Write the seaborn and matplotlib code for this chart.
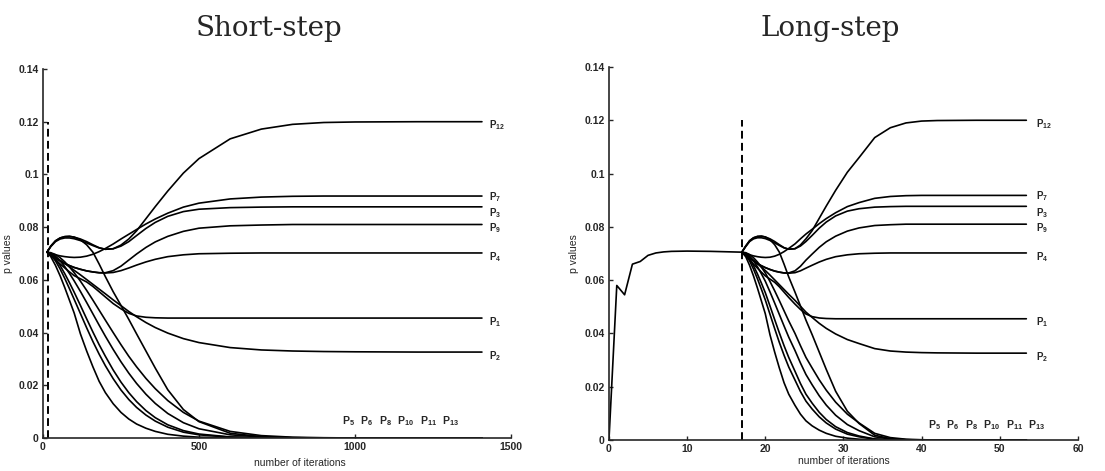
import numpy as np
import pandas as pd
import seaborn as sns
import matplotlib.pyplot as plt

# 迭代次数（两种步长各自的横坐标）
iters_short = [13, 25, 40, 55, 70, 85, 100, 120, 140, 160, 180, 200, 225, 250, 275, 300,
               330, 360, 400, 450, 500, 600, 700, 800, 900, 1000, 1200, 1407]
iters_long = [17, 17.5, 18, 18.5, 19, 19.5, 20, 20.6, 21.2, 21.8, 22.4, 23, 23.8, 24.5, 25.2, 26,
              26.9, 27.8, 29, 30.5, 32, 34, 36, 38, 40, 42, 47, 53.4]

# long-step 的前段曲线
iters_pre = [0, 1, 2, 3, 4, 5, 6, 7, 8, 10, 13, 17]
p_pre = [0, 0.058, 0.0545, 0.066, 0.067, 0.0693, 0.0702, 0.0706, 0.0708, 0.0709, 0.0708, 0.0705]

# 各 p 值曲线
p12 = [0.0705, 0.0728, 0.0748, 0.0759, 0.0764, 0.0765, 0.0762, 0.0755, 0.0745, 0.0733, 0.0722, 0.0716,
       0.0718, 0.0732, 0.0755, 0.0786, 0.0832, 0.0878, 0.0937, 0.1005, 0.106, 0.1135, 0.1172, 0.119,
       0.1197, 0.1199, 0.12, 0.12]
p7 = [0.0705, 0.07, 0.0695, 0.0691, 0.0688, 0.0686, 0.0685, 0.0686, 0.069, 0.0697, 0.0707, 0.0719,
      0.0736, 0.0755, 0.0773, 0.0791, 0.0812, 0.0831, 0.0853, 0.0876, 0.0891, 0.0907, 0.0914, 0.0917,
      0.0918, 0.0918, 0.0918, 0.0918]
p3 = [0.0705, 0.0726, 0.0745, 0.0755, 0.0759, 0.0759, 0.0756, 0.0749, 0.074, 0.073, 0.0721, 0.0716,
      0.0718, 0.0728, 0.0745, 0.0768, 0.0795, 0.0818, 0.0841, 0.0859, 0.0868, 0.0874, 0.0876, 0.0877,
      0.0877, 0.0877, 0.0877, 0.0877]
p9 = [0.0705, 0.0695, 0.0683, 0.0672, 0.0662, 0.0654, 0.0647, 0.064, 0.0634, 0.063, 0.0627, 0.0627,
      0.0635, 0.0652, 0.0675, 0.0698, 0.0723, 0.0744, 0.0765, 0.0784, 0.0796, 0.0805, 0.0808, 0.081,
      0.081, 0.081, 0.081, 0.081]
p4 = [0.0705, 0.0695, 0.0683, 0.0672, 0.0662, 0.0654, 0.0647, 0.064, 0.0634, 0.063, 0.0627, 0.0626,
      0.0628, 0.0635, 0.0645, 0.0656, 0.0668, 0.0678, 0.0688, 0.0695, 0.0699, 0.0701, 0.0702, 0.0702,
      0.0702, 0.0702, 0.0702, 0.0702]
p1 = [0.0705, 0.0692, 0.0676, 0.066, 0.0645, 0.063, 0.0616, 0.0604, 0.0592, 0.0575, 0.0555, 0.0535,
      0.051, 0.049, 0.0473, 0.0463, 0.0458, 0.0456, 0.0455, 0.0455, 0.0455, 0.0455, 0.0455, 0.0455,
      0.0455, 0.0455, 0.0455, 0.0455]
p2 = [0.0705, 0.0697, 0.0686, 0.0674, 0.0662, 0.0649, 0.0636, 0.0619, 0.0601, 0.0583, 0.0565, 0.0547,
      0.0524, 0.0502, 0.048, 0.046, 0.0438, 0.0419, 0.0398, 0.0377, 0.0362, 0.0343, 0.0334, 0.033,
      0.0328, 0.0327, 0.0326, 0.0326]
z1 = [0.0705, 0.0688, 0.0655, 0.0615, 0.057, 0.0522, 0.0474, 0.0395, 0.033, 0.027, 0.0215, 0.0172,
      0.013, 0.0097, 0.0072, 0.0053, 0.0037, 0.0025, 0.0014, 0.0007, 0.0003, 0.0001, 0, 0,
      0, 0, 0, 0]
z2 = [0.0705, 0.0695, 0.0672, 0.0641, 0.0605, 0.0566, 0.0526, 0.0472, 0.0418, 0.0366, 0.0318, 0.0274,
      0.0225, 0.0182, 0.0146, 0.0116, 0.0087, 0.0064, 0.0041, 0.0022, 0.0012, 0.0003, 0.0001, 0,
      0, 0, 0, 0]
z3 = [0.0705, 0.0698, 0.068, 0.0654, 0.0623, 0.0589, 0.0553, 0.0503, 0.0452, 0.0402, 0.0354, 0.031,
      0.0258, 0.0212, 0.0172, 0.0138, 0.0104, 0.0077, 0.005, 0.0028, 0.0015, 0.0004, 0.0001, 0,
      0, 0, 0, 0]
z4 = [0.0705, 0.0701, 0.069, 0.0672, 0.065, 0.0624, 0.0596, 0.0556, 0.0514, 0.0471, 0.0428, 0.0386,
      0.0336, 0.0289, 0.0246, 0.0207, 0.0166, 0.0131, 0.0093, 0.0058, 0.0035, 0.0012, 0.0004, 0.0001,
      0, 0, 0, 0]
z5 = [0.0705, 0.0703, 0.0696, 0.0684, 0.0668, 0.0649, 0.0627, 0.0595, 0.056, 0.0523, 0.0485, 0.0447,
      0.04, 0.0354, 0.031, 0.027, 0.0226, 0.0187, 0.0142, 0.0097, 0.0064, 0.0025, 0.0009, 0.0003,
      0.0001, 0, 0, 0]
z6 = [0.0705, 0.0728, 0.0748, 0.0759, 0.0764, 0.0765, 0.0762, 0.0752, 0.0733, 0.0705, 0.066, 0.0612,
      0.0555, 0.0503, 0.045, 0.0395, 0.033, 0.0265, 0.0183, 0.0108, 0.0062, 0.0018, 0.0005, 0.0001,
      0, 0, 0, 0]

curves = {'P12': p12, 'P7': p7, 'P3': p3, 'P9': p9, 'P4': p4, 'P1': p1, 'P2': p2,
          'Z1': z1, 'Z2': z2, 'Z3': z3, 'Z4': z4, 'Z5': z5, 'Z6': z6}
end_labels = ['P12', 'P7', 'P3', 'P9', 'P4', 'P1', 'P2']
zero_label = r'$P_5\ \ P_6\ \ P_8\ \ P_{10}\ \ P_{11}\ \ P_{13}$'

yticks = [0, 0.02, 0.04, 0.06, 0.08, 0.1, 0.12, 0.14]
ytick_labels = ['0', '0.02', '0.04', '0.06', '0.08', '0.1', '0.12', '0.14']

sns.set_style('ticks')
plt.rcParams['font.family'] = ['Liberation Sans', 'DejaVu Sans']
plt.rcParams['font.weight'] = 'bold'
plt.rcParams['mathtext.fontset'] = 'custom'
plt.rcParams['mathtext.rm'] = 'Liberation Sans:bold'
plt.rcParams['mathtext.default'] = 'rm'


def long_df(xs):
    rows = []
    for name, ys in curves.items():
        for x, y in zip(xs, ys):
            rows.append((name, x, y))
    return pd.DataFrame(rows, columns=['curve', 'iter', 'p'])


fig = plt.figure(figsize=(11.05, 4.71), dpi=100)
ax1 = fig.add_axes([0.0389, 0.0701, 0.4235, 0.7834])
ax2 = fig.add_axes([0.5511, 0.0658, 0.4244, 0.792])

panels = [
    (ax1, long_df(iters_short), 15, (0, 1500), [0, 500, 1000, 1500], 1430, 960, 0.0065),
    (ax2, long_df(iters_long), 17, (0, 60), [0, 10, 20, 30, 40, 50, 60], 54.6, 40.8, 0.0055),
]

# 标签相对曲线终值的下移量（P7 和 P3 靠得很近）
label_shift = {'P7': 0.0004, 'P3': 0.0024}

for ax, df, dash_x, xlim, xticks, lab_x, zero_x, zero_y in panels:
    sns.lineplot(data=df, x='iter', y='p', units='curve', estimator=None,
                 color='black', lw=1.2, ax=ax)
    ax.plot([dash_x, dash_x], [0, 0.12], color='black', lw=1.4, ls=(0, (4, 2.2)))
    for name in end_labels:
        ax.text(lab_x, curves[name][-1] - label_shift.get(name, 0.0014), '$P_{%s}$' % name[1:],
                fontsize=7, va='center', ha='left')
    ax.text(zero_x, zero_y, zero_label, fontsize=7.5, va='center', ha='left')
    ax.set_xlim(*xlim)
    ax.set_ylim(0, 0.14)
    ax.set_xticks(xticks)
    ax.set_xticklabels([str(t) for t in xticks])
    ax.set_yticks(yticks)
    ax.set_yticklabels(ytick_labels)
    ax.tick_params(direction='in', length=3, width=1, labelsize=7.5, pad=3)
    ax.set_xlabel('number of iterations', fontsize=7.5, labelpad=1)
    ax.set_ylabel('p values', fontsize=7.5, labelpad=4)
    for s in ['left', 'bottom']:
        ax.spines[s].set_linewidth(1.2)
    sns.despine(ax=ax)

ax2.plot(iters_pre, p_pre, color='black', lw=1.2)
ax1.xaxis.set_label_coords(0.55, -0.055)

fig.text(269 / 1105, 1 - 28 / 471, 'Short-step', family='DejaVu Serif',
         fontsize=20, weight='normal', ha='center', va='center')
fig.text(830 / 1105, 1 - 28 / 471, 'Long-step', family='DejaVu Serif',
         fontsize=20, weight='normal', ha='center', va='center')

plt.savefig('out.png', dpi=100)
